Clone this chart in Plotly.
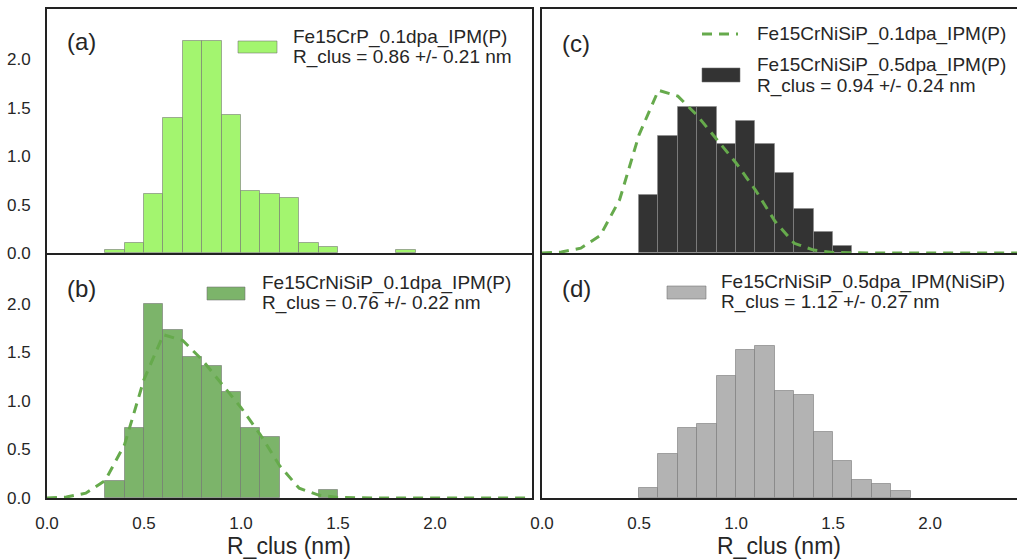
import plotly.graph_objects as go

W, H = 1017, 560

# ---------------- data ----------------
bins_a = [0.3, 0.4, 0.5, 0.6, 0.7, 0.8, 0.9, 1.0, 1.1, 1.2, 1.3, 1.4, 1.8]
dens_a = [0.03, 0.10, 0.605, 1.395, 2.19, 2.19, 1.43, 0.64, 0.605, 0.57, 0.10, 0.065, 0.03]

bins_b = [0.3, 0.4, 0.5, 0.6, 0.7, 0.8, 0.9, 1.0, 1.1, 1.4]
dens_b = [0.18, 0.725, 2.0, 1.73, 1.45, 1.36, 1.09, 0.725, 0.63, 0.085]

bins_c = [0.5, 0.6, 0.7, 0.8, 0.9, 1.0, 1.1, 1.2, 1.3, 1.4, 1.5]
dens_c = [0.60, 1.21, 1.51, 1.51, 1.13, 1.36, 1.13, 0.83, 0.45, 0.22, 0.07]

bins_d = [0.5, 0.6, 0.7, 0.8, 0.9, 1.0, 1.1, 1.2, 1.3, 1.4, 1.5, 1.6, 1.7, 1.8]
dens_d = [0.107, 0.45, 0.715, 0.76, 1.25, 1.52, 1.56, 1.10, 1.06, 0.68, 0.38, 0.185, 0.145, 0.07]

kde_x = [0.0, 0.1, 0.2, 0.3, 0.4, 0.5, 0.6, 0.7, 0.8, 0.9, 1.0, 1.1, 1.2, 1.3,
         1.4, 1.5, 1.6, 1.7, 1.8, 1.9, 2.0, 2.1, 2.2, 2.3, 2.4, 2.5]
kde_y = [0.0, 0.01, 0.05, 0.18, 0.55, 1.22, 1.68, 1.62, 1.42, 1.18, 0.93, 0.65, 0.33, 0.10,
         0.03, 0.005, 0.0, 0.0, 0.0, 0.0, 0.0, 0.0, 0.0, 0.0, 0.0, 0.0]

bin_width = 0.1
xticks = [0.0, 0.5, 1.0, 1.5, 2.0]
xtick_text = ["0.0", "0.5", "1.0", "1.5", "2.0"]
yticks = [0.0, 0.5, 1.0, 1.5, 2.0]
ytick_text = ["0.0", "0.5", "1.0", "1.5", "2.0"]

label_a = ["Fe15CrP_0.1dpa_IPM(P)", "R_clus = 0.86 +/- 0.21 nm"]
label_b = ["Fe15CrNiSiP_0.1dpa_IPM(P)", "R_clus = 0.76 +/- 0.22 nm"]
label_c_line = "Fe15CrNiSiP_0.1dpa_IPM(P)"
label_c = ["Fe15CrNiSiP_0.5dpa_IPM(P)", "R_clus = 0.94 +/- 0.24 nm"]
label_d = ["Fe15CrNiSiP_0.5dpa_IPM(NiSiP)", "R_clus = 1.12 +/- 0.27 nm"]
x_title = "R_clus (nm)"

# ---------------- styles ----------------
col_a = "#a3f56f"
col_b = "#7cb46a"
col_c = "#333333"
col_d = "#b3b3b3"
col_kde = "#66aa4c"
edge = "rgba(110,110,110,0.55)"
txt = "#262626"
FONT = "Liberation Sans, Arial, sans-serif"
TICK = 17
LEG = 19


def px(x):
    return x / W


def py(y):
    return 1 - y / H


fig = go.Figure()


def bars(bins, dens, color, xa, ya, edgecol=edge):
    fig.add_trace(go.Bar(x=bins, y=dens, width=bin_width, offset=0,
                         marker=dict(color=color, line=dict(color=edgecol, width=1)),
                         xaxis=xa, yaxis=ya, showlegend=False, hoverinfo="skip"))


def kde(xa, ya):
    fig.add_trace(go.Scatter(x=kde_x, y=kde_y, mode="lines", cliponaxis=False,
                             line=dict(color=col_kde, width=3, dash="10px,7px"),
                             xaxis=xa, yaxis=ya, showlegend=False, hoverinfo="skip"))


bars(bins_a, dens_a, col_a, "x", "y")
bars(bins_b, dens_b, col_b, "x2", "y2")
kde("x2", "y2")
bars(bins_c, dens_c, col_c, "x3", "y3", edgecol="rgba(140,140,140,0.6)")
kde("x3", "y3")
bars(bins_d, dens_d, col_d, "x4", "y4", edgecol="rgba(120,120,120,0.6)")

left_dom = [px(47), px(532)]
right_dom = [px(542), 1.0]
top_dom = [py(253), py(9)]
bot_dom = [py(498), py(253)]

common_x = dict(showgrid=False, zeroline=False, showline=True, linecolor="#222222",
                linewidth=2, ticks="", tickvals=xticks, ticktext=xtick_text,
                tickfont=dict(size=TICK, color=txt, family=FONT), ticklabelstandoff=9,
                automargin=False)
common_y = dict(showgrid=False, zeroline=False, showline=True, linecolor="#222222",
                linewidth=2, ticks="", tickvals=yticks, ticktext=ytick_text,
                tickfont=dict(size=TICK, color=txt, family=FONT), range=[0, 2.52],
                ticklabelstandoff=11, automargin=False)

fig.update_layout(
    template="none",
    width=W, height=H,
    margin=dict(l=0, r=0, t=0, b=0, pad=0),
    paper_bgcolor="white", plot_bgcolor="white",
    bargap=0,
    font=dict(family=FONT, color=txt),
    # the shared middle frame line is drawn once, by the upper panels
    xaxis=dict(common_x, domain=left_dom, range=[0, 2.5], anchor="y", mirror=True,
               showticklabels=False),
    yaxis=dict(common_y, domain=top_dom, anchor="x", mirror=True),
    xaxis2=dict(common_x, domain=left_dom, range=[0, 2.5], anchor="y2", mirror=False,
                layer="below traces"),
    yaxis2=dict(common_y, domain=bot_dom, anchor="x2", mirror=True),
    xaxis3=dict(common_x, domain=right_dom, range=[0, 2.448], anchor="y3", mirror=True,
                showticklabels=False, layer="below traces"),
    yaxis3=dict(common_y, domain=top_dom, anchor="x3", mirror=False, showticklabels=False),
    xaxis4=dict(common_x, domain=right_dom, range=[0, 2.448], anchor="y4", mirror=False),
    yaxis4=dict(common_y, domain=bot_dom, anchor="x4", mirror=False, showticklabels=False),
)

annotations = []
shapes = []


def text(x, y, s, size=LEG, xanchor="left"):
    annotations.append(dict(x=px(x), y=py(y), xref="paper", yref="paper", text=s,
                            showarrow=False, xanchor=xanchor, yanchor="middle",
                            xshift=0, yshift=0, borderpad=0,
                            font=dict(size=size, color=txt, family=FONT)))


def patch(x0, x1, y0, y1, color):
    shapes.append(dict(type="rect", xref="paper", yref="paper",
                       x0=px(x0), x1=px(x1), y0=py(y1), y1=py(y0),
                       fillcolor=color, line=dict(color=edge, width=1)))


# panel labels
text(66, 42, "(a)", size=24)
text(66, 288, "(b)", size=24)
text(561, 44, "(c)", size=24)
text(561, 288, "(d)", size=24)

# legend (a)
patch(238, 277, 41, 53, col_a)
text(292, 37, label_a[0])
text(292, 57, label_a[1])

# legend (b)
patch(207, 245, 287, 300, col_b)
text(261, 283, label_b[0])
text(261, 303, label_b[1])

# legend (c)
shapes.append(dict(type="line", xref="paper", yref="paper", x0=px(702), x1=px(738),
                   y0=py(34), y1=py(34), line=dict(color=col_kde, width=3, dash="10px,7px")))
text(756, 34, label_c_line)
patch(702, 740, 68, 82, col_c)
text(756, 65, label_c[0])
text(756, 86, label_c[1])

# legend (d)
patch(667, 706, 286, 299, col_d)
text(720, 282, label_d[0])
text(720, 302, label_d[1])

# x titles
text(289, 546, x_title, size=23, xanchor="center")
text(779, 546, x_title, size=23, xanchor="center")

fig.update_layout(annotations=annotations, shapes=shapes)

fig.write_html("out.html",
               config={"displayModeBar": False},
               post_script="document.body.style.margin='0px';"
                           "document.body.style.overflow='hidden';")
